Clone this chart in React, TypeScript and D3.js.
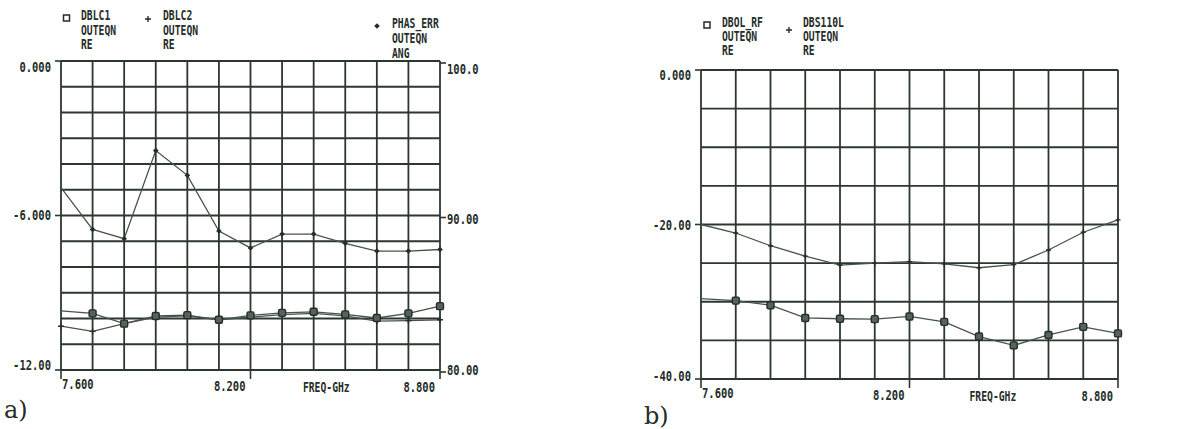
import React from "react";
import * as d3 from "d3";

// frequency points (GHz), shared by both plots
const freqs = [7.6, 7.7, 7.8, 7.9, 8.0, 8.1, 8.2, 8.3, 8.4, 8.5, 8.6, 8.7, 8.8];

// plot a)
const dblc1 = [-9.7, -9.8, -10.2, -9.9, -9.87, -10.05, -9.88, -9.78, -9.74, -9.84, -9.98, -9.8, -9.52];
const dblc2 = [-10.3, -10.5, -10.2, -9.95, -9.9, -10.05, -9.95, -9.85, -9.8, -9.9, -10.1, -10.08, -10.05];
const phasErr = [91.8, 89.1, 88.5, 94.2, 92.6, 89.0, 87.9, 88.8, 88.8, 88.2, 87.7, 87.7, 87.8];

// plot b)
const dbolRf = [-29.6, -29.85, -30.45, -32.1, -32.2, -32.25, -31.9, -32.6, -34.5, -35.65, -34.3, -33.25, -34.1];
const dbs110l = [-20.0, -21.1, -22.75, -24.1, -25.25, -25.0, -24.8, -25.1, -25.6, -25.2, -23.3, -21.0, -19.4];

const xTickVals = [7.6, 8.2, 8.8];
const xTickLabels = ["7.600", "8.200", "8.800"];
const leftTickValsA = [0, -6, -12];
const leftTickLabelsA = ["0.000", "-6.000", "-12.00"];
const rightTickValsA = [100, 90, 80];
const rightTickLabelsA = ["100.0", "90.00", "80.00"];
const leftTickValsB = [0, -20, -40];
const leftTickLabelsB = ["0.000", "-20.00", "-40.00"];

const ink = "#252e29";
const gridInk = "#2c372f";
const lineInk = "#46544b";

// tall, narrow plotter-style lettering
function T({ x, y, children, anchor = "start", size = 14, sx = 0.75 }: any) {
  return (
    <text
      transform={`translate(${x},${y}) scale(${sx},1)`}
      textAnchor={anchor}
      fontFamily="'DejaVu Sans Mono', monospace"
      fontWeight="bold"
      fontSize={size}
      fill={ink}
    >
      {children}
    </text>
  );
}
function L({ x, y, children }: any) {
  return <T x={x} y={y} size={13.5} sx={0.72}>{children}</T>;
}

function Square({ x, y }: any) {
  return <rect x={x - 3.5} y={y - 3.5} width={7} height={7} rx={1.5} fill="#56625a" stroke={ink} strokeWidth={1.4} />;
}
function Plus({ x, y, s = 3 }: any) {
  return <path d={`M${x - s},${y}H${x + s}M${x},${y - s}V${y + s}`} stroke={ink} strokeWidth={1.4} />;
}
function Diamond({ x, y, s = 2.8 }: any) {
  return <path d={`M${x},${y - s}L${x + s},${y}L${x},${y + s}L${x - s},${y}Z`} fill={ink} />;
}

function Grid({ x, y, rows }: any) {
  const [x0, x1] = x.range();
  const [y1, y0] = y.range();
  return (
    <g stroke={gridInk} strokeWidth={1.8} fill="none">
      {freqs.map((f, i) => (
        <line key={"v" + i} x1={x(f)} x2={x(f)} y1={y0} y2={y1} />
      ))}
      {y.ticks(rows).map((v: number, i: number) => (
        <line key={"h" + i} x1={x0} x2={x1} y1={y(v)} y2={y(v)} />
      ))}
    </g>
  );
}

function XAxis({ x, y }: any) {
  const yb = y.range()[0];
  return (
    <g>
      {xTickVals.map((v, i) => (
        <line key={i} x1={x(v)} x2={x(v)} y1={yb} y2={yb + 9} stroke={gridInk} strokeWidth={1.6} />
      ))}
      {xTickLabels.map((s, i) =>
        i === 0 ? (
          <T key={s} x={x(xTickVals[i]) + 1} y={yb + 19}>{s}</T>
        ) : (
          <T key={s} x={x(xTickVals[i]) - 5} y={yb + 20 + i} anchor="end">{s}</T>
        )
      )}
      <T x={x(8.44)} y={yb + 22} anchor="middle" size={13.5} sx={0.72}>FREQ-GHz</T>
    </g>
  );
}

export default function App() {
  // plot a)
  const xA = d3.scaleLinear().domain([7.6, 8.8]).range([61, 440]);
  const yA = d3.scaleLinear().domain([-12, 0]).range([370, 61]);
  const yA2 = d3.scaleLinear().domain([80, 100]).range([370, 61]);
  // plot b)
  const xB = d3.scaleLinear().domain([7.6, 8.8]).range([701, 1118]);
  const yB = d3.scaleLinear().domain([-40, 0]).range([379, 70]);

  const lineA = d3.line<number>().x((d, i) => xA(freqs[i])).y((d) => yA(d));
  const lineA2 = d3.line<number>().x((d, i) => xA(freqs[i])).y((d) => yA2(d));
  const lineB = d3.line<number>().x((d, i) => xB(freqs[i])).y((d) => yB(d));

  const leftTopOff = [11, 4, 0];
  const rightOff = [13, 8, 5];
  const leftOffB = [10, 5, 2];

  return (
    <svg width={1204} height={429} style={{ position: "absolute", left: 0, top: 0, background: "#fff" }}>
      {/* ---------- a) ---------- */}
      <Grid x={xA} y={yA} rows={12} />
      {leftTickValsA.map((v, i) => (
        <g key={"la" + i}>
          <line x1={55} x2={61} y1={yA(v)} y2={yA(v)} stroke={gridInk} strokeWidth={1.6} />
          <T x={51} y={yA(v) + leftTopOff[i]} anchor="end">{leftTickLabelsA[i]}</T>
        </g>
      ))}
      {rightTickValsA.map((v, i) => (
        <g key={"ra" + i}>
          <line x1={440} x2={446} y1={yA2(v) + 2} y2={yA2(v) + 2} stroke={gridInk} strokeWidth={1.6} />
          <T x={447} y={yA2(v) + rightOff[i]}>{rightTickLabelsA[i]}</T>
        </g>
      ))}
      <XAxis x={xA} y={yA} />

      <g fill="none" stroke={lineInk} strokeWidth={1.3}>
        <path d={lineA2(phasErr) || ""} />
        <path d={lineA(dblc2) || ""} />
        <path d={lineA(dblc1) || ""} />
      </g>
      {phasErr.map((v, i) => (i > 0 ? <Diamond key={"pe" + i} x={xA(freqs[i])} y={yA2(v)} /> : null))}
      {dblc2.map((v, i) => <Plus key={"c2" + i} x={xA(freqs[i])} y={yA(v)} />)}
      {dblc1.map((v, i) => (i > 0 ? <Square key={"c1" + i} x={xA(freqs[i])} y={yA(v)} /> : null))}

      {/* legend a) */}
      <rect x={63.5} y={15} width={6} height={6} fill="none" stroke={ink} strokeWidth={1.5} />
      <L x={81} y={20}>DBLC1</L>
      <L x={81} y={34.5}>OUTEQN</L>
      <L x={81} y={49}>RE</L>
      <Plus x={148} y={19} />
      <L x={163} y={20}>DBLC2</L>
      <L x={163} y={34.5}>OUTEQN</L>
      <L x={163} y={49}>RE</L>
      <Diamond x={377} y={26} />
      <L x={392} y={28}>PHAS_ERR</L>
      <L x={392} y={43}>OUTEQN</L>
      <L x={392} y={58}>ANG</L>

      <text x={4} y={418} fontFamily="'DejaVu Serif', serif" fontSize={24} fill={ink}>a)</text>

      {/* ---------- b) ---------- */}
      <Grid x={xB} y={yB} rows={10} />
      {leftTickValsB.map((v, i) => (
        <g key={"lb" + i}>
          <line x1={695} x2={701} y1={yB(v)} y2={yB(v)} stroke={gridInk} strokeWidth={1.6} />
          <T x={691} y={yB(v) + leftOffB[i]} anchor="end">{leftTickLabelsB[i]}</T>
        </g>
      ))}
      <XAxis x={xB} y={yB} />

      <g fill="none" stroke={lineInk} strokeWidth={1.3}>
        <path d={lineB(dbs110l) || ""} />
        <path d={lineB(dbolRf) || ""} />
      </g>
      {dbs110l.map((v, i) => (i > 0 ? <Plus key={"s1" + i} x={xB(freqs[i])} y={yB(v)} s={2.5} /> : null))}
      {dbolRf.map((v, i) => (i > 0 ? <Square key={"rf" + i} x={xB(freqs[i])} y={yB(v)} /> : null))}

      {/* legend b) */}
      <rect x={704} y={22} width={6} height={6} fill="none" stroke={ink} strokeWidth={1.5} />
      <L x={722} y={27}>DBOL_RF</L>
      <L x={722} y={41}>OUTEQN</L>
      <L x={722} y={55}>RE</L>
      <Plus x={789} y={30} />
      <L x={803} y={27}>DBS110L</L>
      <L x={803} y={41}>OUTEQN</L>
      <L x={803} y={55}>RE</L>

      <text x={644} y={424} fontFamily="'DejaVu Serif', serif" fontSize={24} fill={ink}>b)</text>
    </svg>
  );
}
